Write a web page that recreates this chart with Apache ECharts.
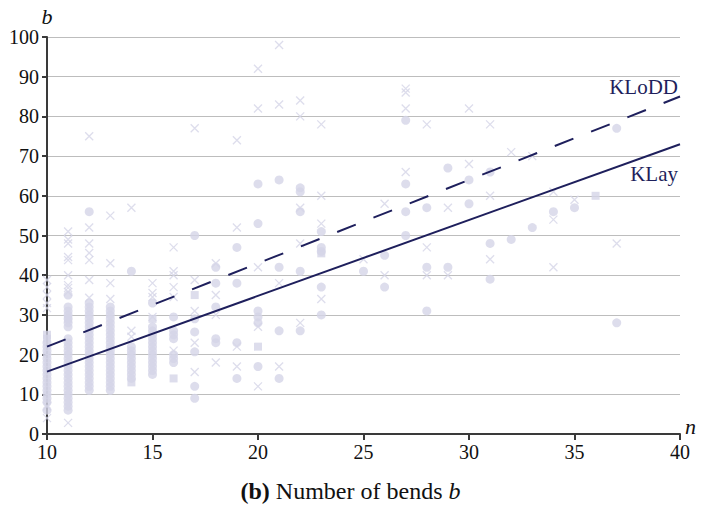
<!DOCTYPE html>
<html>
<head>
<meta charset="utf-8">
<script src="https://cdn.jsdelivr.net/npm/echarts@6/dist/echarts.min.js"></script>
<style>
  html, body { margin: 0; padding: 0; background: #fff; }
  #chart { width: 701px; height: 519px; }
</style>
</head>
<body>
<div id="chart"></div>
<script>
// instances: [n, b]
const circlePoints = [
  [10, 6], [10, 8], [10, 9], [10, 10], [10, 11], [10, 12], [10, 13], [10, 14], [10, 15], [10, 16],
  [10, 17], [10, 18], [10, 19], [10, 20], [10, 21], [10, 22], [10, 23],
  [11, 6], [11, 7], [11, 8], [11, 9], [11, 10], [11, 11], [11, 12], [11, 13], [11, 14], [11, 15],
  [11, 16], [11, 17], [11, 18], [11, 19], [11, 20], [11, 21], [11, 22], [11, 23], [11, 24],
  [11, 27], [11, 28], [11, 29], [11, 30], [11, 31], [11, 32], [11, 35],
  [12, 11], [12, 12], [12, 13], [12, 14], [12, 15], [12, 16], [12, 17], [12, 18], [12, 19], [12, 20],
  [12, 21], [12, 22], [12, 23], [12, 24], [12, 25], [12, 26], [12, 27], [12, 28], [12, 29], [12, 30],
  [12, 31], [12, 32], [12, 33], [12, 56],
  [13, 11], [13, 12], [13, 13], [13, 14], [13, 15], [13, 16], [13, 17], [13, 18], [13, 19], [13, 20],
  [13, 21], [13, 22], [13, 23], [13, 24], [13, 25], [13, 26], [13, 27], [13, 28], [13, 29], [13, 30],
  [13, 31], [13, 32],
  [14, 14], [14, 15], [14, 16], [14, 17], [14, 18], [14, 19], [14, 20], [14, 21], [14, 22], [14, 41],
  [15, 15], [15, 16], [15, 17], [15, 18], [15, 19], [15, 20], [15, 21], [15, 22], [15, 23], [15, 24],
  [15, 25], [15, 26], [15, 27], [15, 33],
  [16, 18], [16, 19], [16, 20], [16, 24], [16, 25], [16, 26], [16, 29.5],
  [17, 50], [17, 29], [17, 25.7], [17, 20.7], [17, 12], [17, 9],
  [18, 42], [18, 38], [18, 32], [18, 24], [18, 23],
  [19, 47], [19, 38], [19, 23], [19, 14],
  [20, 63], [20, 53], [20, 31], [20, 29.5], [20, 28], [20, 17],
  [21, 64], [21, 42], [21, 26], [21, 14],
  [22, 62], [22, 61], [22, 56], [22, 41], [22, 26],
  [23, 51], [23, 47], [23, 46], [23, 37], [23, 30],
  [25, 41],
  [26, 45], [26, 37],
  [27, 79], [27, 63], [27, 56], [27, 50],
  [28, 57], [28, 42], [28, 31],
  [29, 67], [29, 42],
  [30, 64], [30, 58],
  [31, 66], [31, 48], [31, 39],
  [32, 49],
  [33, 52],
  [34, 56],
  [35, 57],
  [37, 77], [37, 28]
];

const crossPoints = [
  [10, 4], [10, 7], [10, 31.7], [10, 33], [10, 35], [10, 37], [10, 38.8],
  [11, 2.8], [11, 35.8], [11, 36.8], [11, 37.5], [11, 40], [11, 43.8], [11, 44.6], [11, 48], [11, 49], [11, 51],
  [12, 34.3], [12, 38.8], [12, 43.8], [12, 45.6], [12, 48], [12, 52], [12, 75],
  [13, 34], [13, 38], [13, 43], [13, 55],
  [14, 24.5], [14, 26], [14, 57],
  [15, 29.5], [15, 34.5], [15, 35.5], [15, 38],
  [16, 21], [16, 34.5], [16, 37], [16, 40], [16, 41], [16, 47],
  [17, 77], [17, 38.8], [17, 31], [17, 23], [17, 15.6],
  [18, 43], [18, 35], [18, 30], [18, 18],
  [19, 74], [19, 52], [19, 22], [19, 17],
  [20, 92], [20, 82], [20, 42], [20, 27], [20, 12],
  [21, 98], [21, 83], [21, 38], [21, 17],
  [22, 84], [22, 80], [22, 57], [22, 48], [22, 28],
  [23, 78], [23, 60], [23, 53], [23, 34],
  [25, 44],
  [26, 58], [26, 40],
  [27, 87], [27, 86], [27, 82], [27, 66],
  [28, 78], [28, 47], [28, 40],
  [29, 57], [29, 40],
  [30, 82], [30, 68],
  [31, 78], [31, 60], [31, 44],
  [32, 71],
  [33, 70],
  [34, 61], [34, 54], [34, 42],
  [35, 59],
  [37, 48]
];

const squarePoints = [
  [10, 24], [10, 25], [11, 29], [14, 13], [15, 29], [16, 14], [17, 35], [20, 22], [23, 45.5], [36, 60]
];

// regression lines
const klayLine = [[10, 15.7], [40, 73]];
const kloddLine = [[10, 22], [40, 85]];

const pointColor = '#d4d5e7';
const lineColor = '#1e1f5c';
const serif = '"Liberation Serif", "DejaVu Serif", serif';

const chart = echarts.init(document.getElementById('chart'), null, { renderer: 'svg' });

chart.setOption({
  animation: false,
  backgroundColor: '#fff',
  textStyle: { fontFamily: serif },
  title: {
    text: '{b|(b)} Number of bends {i|b}',
    left: 'center',
    top: 474,
    textStyle: {
      fontFamily: serif,
      fontSize: 24,
      fontWeight: 'normal',
      color: '#111',
      rich: {
        b: { fontFamily: serif, fontSize: 24, fontWeight: 'bold', color: '#111' },
        i: { fontFamily: serif, fontSize: 24, fontStyle: 'italic', color: '#111' }
      }
    }
  },
  grid: { left: 47, right: 21, top: 37, bottom: 85 },
  xAxis: {
    type: 'value',
    min: 10,
    max: 40,
    interval: 5,
    name: 'n',
    nameLocation: 'end',
    nameGap: 5,
    nameTextStyle: { fontFamily: serif, fontSize: 22, fontStyle: 'italic', color: '#111', verticalAlign: 'bottom', padding: [0, 0, -3, 0] },
    axisLine: { lineStyle: { color: '#3a3a3a', width: 2 } },
    axisTick: { length: 6, lineStyle: { color: '#3a3a3a', width: 2 } },
    axisLabel: { fontFamily: serif, fontSize: 20, color: '#111', margin: 8 },
    splitLine: { show: false }
  },
  yAxis: {
    type: 'value',
    min: 0,
    max: 100,
    interval: 10,
    name: 'b',
    nameLocation: 'end',
    nameGap: 10,
    nameTextStyle: { fontFamily: serif, fontSize: 22, fontStyle: 'italic', color: '#111', align: 'center' },
    axisLine: { show: true, lineStyle: { color: '#3a3a3a', width: 2 } },
    axisTick: { show: true, length: 5, lineStyle: { color: '#3a3a3a', width: 2 } },
    axisLabel: { fontFamily: serif, fontSize: 20, color: '#111', margin: 8 },
    splitLine: { lineStyle: { color: '#bdbdbd', width: 1.2 } }
  },
  series: [
    {
      type: 'scatter',
      data: circlePoints,
      symbol: 'circle',
      symbolSize: 9,
      itemStyle: { color: pointColor },
      z: 2
    },
    {
      type: 'scatter',
      data: squarePoints,
      symbol: 'rect',
      symbolSize: 8,
      itemStyle: { color: pointColor },
      z: 2
    },
    {
      type: 'scatter',
      data: crossPoints,
      symbol: 'path://M0,0L10,10M10,0L0,10',
      symbolSize: 8,
      itemStyle: { color: 'none', borderColor: pointColor, borderWidth: 1.3 },
      z: 2
    },
    {
      type: 'line',
      data: kloddLine,
      symbol: 'none',
      lineStyle: { color: lineColor, width: 2, type: [20, 19] },
      endLabel: {
        show: true,
        formatter: 'KLoDD',
        align: 'right',
        verticalAlign: 'middle',
        offset: [-10, -10],
        fontFamily: serif,
        fontSize: 21,
        color: lineColor
      },
      z: 3
    },
    {
      type: 'line',
      data: klayLine,
      symbol: 'none',
      lineStyle: { color: lineColor, width: 2 },
      endLabel: {
        show: true,
        formatter: 'KLay',
        align: 'right',
        verticalAlign: 'middle',
        offset: [-10, 30],
        fontFamily: serif,
        fontSize: 21,
        color: lineColor
      },
      z: 3
    }
  ]
});
</script>
</body>
</html>
